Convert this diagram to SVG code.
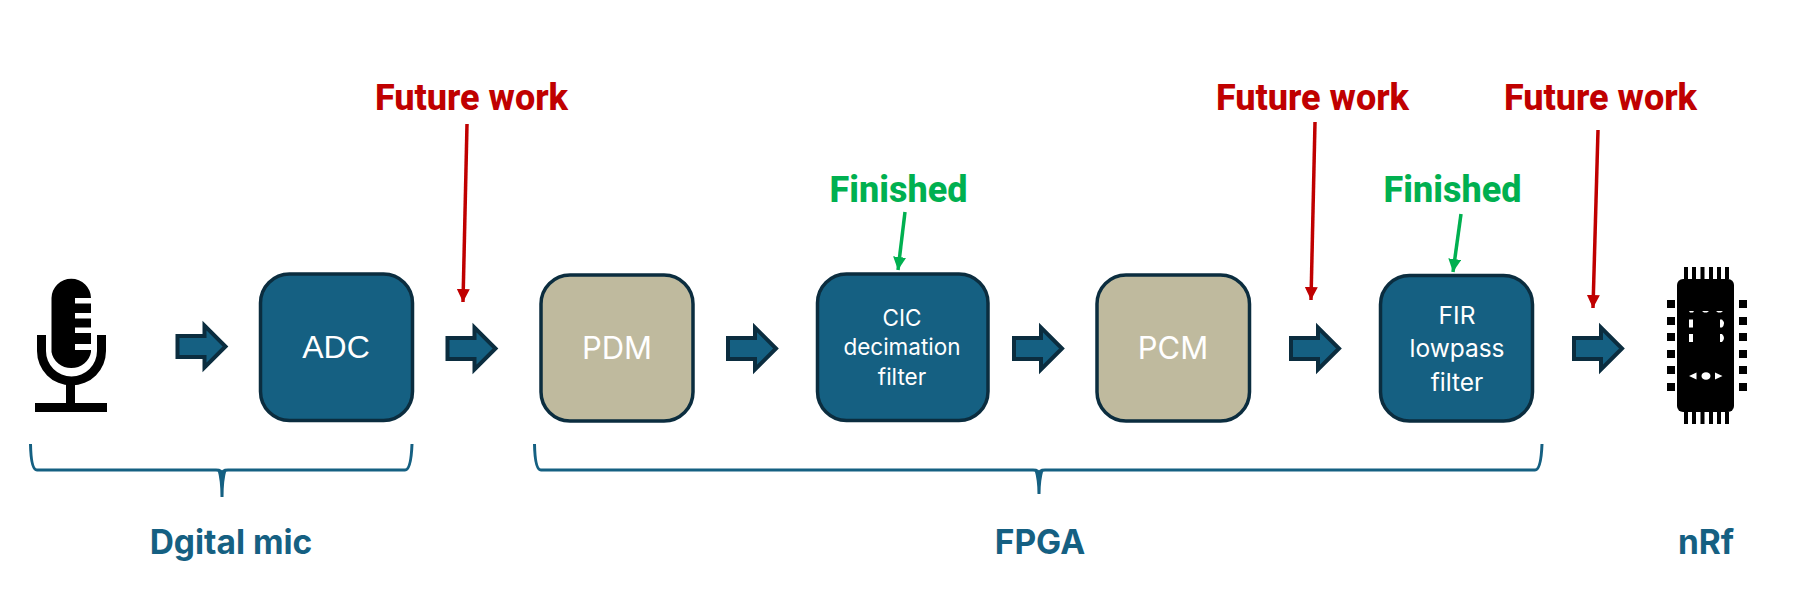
<svg xmlns="http://www.w3.org/2000/svg" width="1804" height="597" viewBox="0 0 1804 597">
<style>
.n{stroke:#0b2d3f;stroke-width:3.5}
.b{fill:#156082}
.t{fill:#bfba9e}
text{font-family:"Inter","Liberation Sans",sans-serif}
.w{fill:#fff;text-anchor:middle}
.big{font-size:31px}
.sm{font-size:22.5px}
.fir{font-size:24.500px}
.red{fill:#c00000;font-weight:800;font-size:36px;font-family:"Roboto","Liberation Sans",sans-serif;text-anchor:middle}
.grn{fill:#00b050;font-weight:800;font-size:36px;font-family:"Roboto","Liberation Sans",sans-serif;text-anchor:middle}
.lab{fill:#156082;font-weight:700;font-size:33.500px;text-anchor:middle}
.fat{fill:#156082;stroke:#0b2d3f;stroke-width:4}
.br{fill:none;stroke:#156082;stroke-width:3}
.tip{fill:#156082}
.rl{stroke:#c00000;stroke-width:3.5;fill:none;marker-end:url(#ra)}
.gl{stroke:#00b050;stroke-width:3.5;fill:none;marker-end:url(#ga)}
</style>
<defs>
<marker id="ra" markerUnits="userSpaceOnUse" markerWidth="14" markerHeight="13" refX="13" refY="6.5" orient="auto"><path d="M0 0L13 6.500L0 13z" fill="#c00000"/></marker>
<marker id="ga" markerUnits="userSpaceOnUse" markerWidth="14" markerHeight="13" refX="13" refY="6.5" orient="auto"><path d="M0 0L13 6.500L0 13z" fill="#00b050"/></marker>
<path id="fa" class="fat" d="M0 -10.500H27V-21L48 0L27 21V10.500H0z"/>
</defs>
<g id="mic">
<path d="M51.500 298a19.500 19 0 0 1 39.500 0h-16v5.500h16v9.500h-16v5.500h16v9h-16v5.500h16v11h-16v6h16v2a20 19 0 0 1-39.500 0z" fill="#000"/>
<path d="M37 335v16a34.500 34.500 0 0 0 69 0v-16h-9v16a25.500 25.500 0 0 1-51 0v-16z" fill="#000"/>
<rect x="66" y="384" width="9" height="20" fill="#000"/>
<rect x="35" y="403" width="72" height="9" fill="#000"/>
</g>
<g id="adc"><rect class="n b" x="260.500" y="274" width="152" height="146.500" rx="29"/><text class="w" x="336" y="358" style="font-family:'Liberation Sans',sans-serif" font-size="32">ADC</text></g>
<g id="pdm"><rect class="n t" x="541" y="275" width="152" height="146" rx="29"/><text class="w big" x="617" y="359">PDM</text></g>
<g id="cic"><rect class="n b" x="817.500" y="274" width="170.500" height="146.500" rx="29"/><text class="w sm" x="902" y="326">CIC</text><text class="w sm" x="902" y="355">decimation</text><text class="w sm" x="902" y="385">filter</text></g>
<g id="pcm"><rect class="n t" x="1097" y="275" width="152.500" height="146" rx="29"/><text class="w big" x="1173" y="359">PCM</text></g>
<g id="fir"><rect class="n b" x="1380.500" y="275.500" width="152" height="145.500" rx="29"/><text class="w fir" x="1457" y="323.500">FIR</text><text class="w fir" x="1457" y="357">lowpass</text><text class="w fir" x="1457" y="391">filter</text></g>
<g id="chip" fill="#000">
<rect x="1677" y="279" width="57" height="133" rx="6"/>
<path d="M1684 267h4v12h-4zM1692 267h4v12h-4zM1700.500 267h4v12h-4zM1709 267h4v12h-4zM1717 267h4v12h-4zM1725 267h4v12h-4zM1684 412h4v12h-4zM1692 412h4v12h-4zM1700.500 412h4v12h-4zM1709 412h4v12h-4zM1717 412h4v12h-4zM1725 412h4v12h-4z"/>
<path d="M1667 300h8v8h-8zM1667 317h8v8h-8zM1667 333h8v8h-8zM1667 350h8v8h-8zM1667 366h8v8h-8zM1667 383h8v8h-8zM1739 300h8v8h-8zM1739 317h8v8h-8zM1739 333h8v8h-8zM1739 350h8v8h-8zM1739 366h8v8h-8zM1739 383h8v8h-8z"/>
<path fill="#fff" d="M1689 311h5l-1 1.500h-3zM1702 311h7l-2 1.500h-3zM1716 311h7l-2 1.500h-3zM1689 319.500h4v8h-4zM1689 334h4v8h-4zM1720 319.500h2q2 2 2 4t-2 4h-2zM1720 334h2q2 2 2 4t-2 4h-2zM1689 376l7.500-3.500v7zM1715 372.500l7.500 3.500l-7.500 3.500z"/>
<ellipse cx="1706" cy="376" rx="4.500" ry="3.800" fill="#fff"/>
</g>
<g id="connectors">
<use href="#fa" x="177.500" y="346.500"/>
<use href="#fa" x="447.500" y="348.500"/>
<use href="#fa" x="728" y="348.500"/>
<use href="#fa" x="1014" y="348.500"/>
<use href="#fa" x="1291" y="348.500"/>
<use href="#fa" x="1574" y="348.500"/>
<path class="rl" d="M467 124L463 302"/>
<path class="rl" d="M1315 122L1311 300"/>
<path class="rl" d="M1598 130L1593 308"/>
<path class="gl" d="M905 212L898 270"/>
<path class="gl" d="M1461 214L1453 272"/>
<path class="br" d="M30.500 444Q31 470 37 470H216Q222 470 222 474Q222 470 228 470H405Q411 470 412 444"/>
<path class="tip" d="M217.500 470Q220.500 480 220.500 497h3Q223.500 480 226.500 470h-2L222 473.500L219.500 470z"/>
<path class="br" d="M534.500 444Q535 470 541 470H1033Q1039 470 1039 474Q1039 470 1045 470H1535Q1541 470 1542 444"/>
<path class="tip" d="M1034.500 470Q1037.500 480 1037.500 494h3Q1040.500 480 1043.500 470h-2L1039 473.500L1036.500 470z"/>
</g>
<g id="labels">
<text class="red" x="471.500" y="110">Future work</text>
<text class="red" x="1312.500" y="110">Future work</text>
<text class="red" x="1600.500" y="110">Future work</text>
<text class="grn" x="898.500" y="202">Finished</text>
<text class="grn" x="1452.500" y="202">Finished</text>
<text class="lab" x="231" y="554">Dgital mic</text>
<text class="lab" x="1040" y="554">FPGA</text>
<text class="lab" x="1706" y="554">nRf</text>
</g>
</svg>
